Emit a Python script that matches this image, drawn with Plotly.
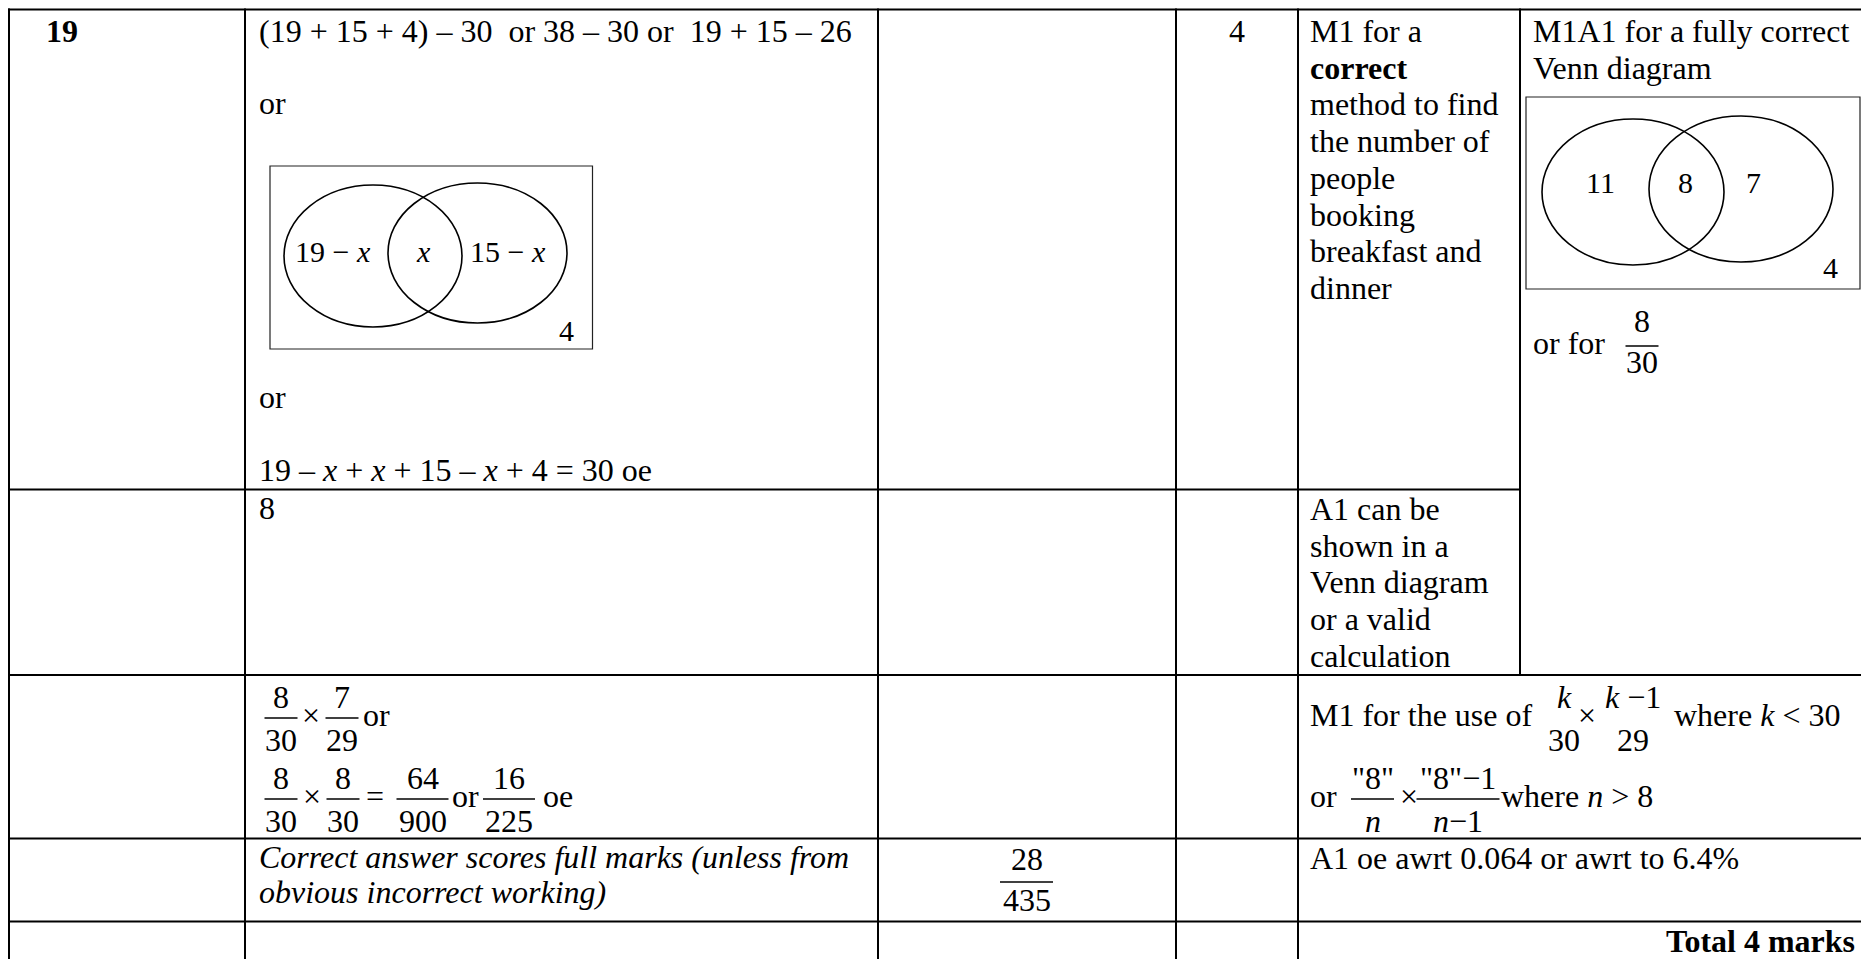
import plotly.graph_objects as go

W, H = 1869, 959
SERIF = "Liberation Serif, Times New Roman, serif"
FS = 32
LINE_H = 36.7
PAGE_OFFSET = 8  # the page body margin shifts the figure; axes are set in page pixels
TEXT_DY = -2     # small lift so text centres sit where the reference has them

# ---- table content ----
question = "19"
marks = "4"
working_row1 = ["(19 + 15 + 4) – 30  or 38 – 30 or  19 + 15 – 26", "or", "or",
                "19 – <i>x</i> + <i>x</i> + 15 – <i>x</i> + 4 = 30 oe"]
venn_method = ["19 − <i>x</i>", "<i>x</i>", "15 − <i>x</i>", "4"]
venn_answer = ["11", "8", "7", "4"]
notes_m1 = ["M1 for a", "<b>correct</b>", "method to find", "the number of",
            "people", "booking", "breakfast and", "dinner"]
notes_m1a1 = ["M1A1 for a fully correct", "Venn diagram"]
or_for = ["or for", ("8", "30")]
answer_row2 = "8"
notes_a1 = ["A1 can be", "shown in a", "Venn diagram", "or a valid", "calculation"]
prob_line1 = [("8", "30"), "×", ("7", "29"), "or"]
prob_line2 = [("8", "30"), "×", ("8", "30"), "=", ("64", "900"), "or", ("16", "225"), "oe"]
m1_line1 = ["M1 for the use of", ("<i>k</i>", "30"), "×", ("<i>k</i> −1", "29"), "where <i>k</i> &lt; 30"]
m1_line2 = ["or", ('"8"', "<i>n</i>"), "×", ('"8"−1', "<i>n</i>−1"), "where <i>n</i> &gt; 8"]
italic_note = ["<i>Correct answer scores full marks (unless from</i>", "<i>obvious incorrect working)</i>"]
final_answer = ("28", "435")
a1_note = "A1 oe awrt 0.064 or awrt to 6.4%"
total = "<b>Total 4 marks</b>"

# ---- layout (pixel positions) ----
col_x = [9, 245, 878, 1176, 1298]
col6_x = 1520
row_y = [9.5, 489.5, 675, 838.5, 921.5]

fig = go.Figure()
shapes = []
annotations = []


def hline(y, x0, x1, w=2):
    shapes.append(dict(type="line", xref="x", yref="y", x0=x0, x1=x1, y0=y, y1=y,
                       line=dict(color="black", width=w)))


def vline(x, y0, y1, w=2):
    shapes.append(dict(type="line", xref="x", yref="y", x0=x, x1=x, y0=y0, y1=y1,
                       line=dict(color="black", width=w)))


def text(x, y, s, anchor="left", size=FS):
    annotations.append(dict(x=x, y=y + TEXT_DY, xref="x", yref="y", text=s, showarrow=False,
                            xanchor=anchor, yanchor="middle",
                            font=dict(family=SERIF, size=size, color="black")))


def frac(cx, bar_y, num, den, bar_w, up=19, down=24, size=FS):
    text(cx, bar_y - up, num, "center", size)
    text(cx, bar_y + down, den, "center", size)
    shapes.append(dict(type="line", xref="x", yref="y", x0=cx - bar_w / 2, x1=cx + bar_w / 2,
                       y0=bar_y, y1=bar_y, line=dict(color="black", width=1.5)))


def expr(tokens, xs, bar_ws, bar_y, up=19, down=24):
    for tok, x, bw in zip(tokens, xs, bar_ws):
        if isinstance(tok, tuple):
            frac(x, bar_y, tok[0], tok[1], bw, up, down)
        elif tok in ("×", "="):
            text(x, bar_y - 1, tok, "center")
        else:
            text(x, bar_y - 1, tok, "left")


def venn(box, circles, labels, label_pos, size):
    x0, y0, x1, y1 = box
    shapes.append(dict(type="rect", xref="x", yref="y", x0=x0, x1=x1, y0=y0, y1=y1,
                       line=dict(color="#222", width=1.2)))
    for c in circles:
        shapes.append(dict(type="circle", xref="x", yref="y", x0=c[0], y0=c[1], x1=c[2], y1=c[3],
                           line=dict(color="black", width=1.6)))
    for lab, (lx, ly) in zip(labels, label_pos):
        text(lx, ly, lab, "center", size)


# grid
hline(row_y[0], 8, W + 10)
hline(row_y[1], 8, col6_x)
for y in row_y[2:]:
    hline(y, 8, W + 10)
for x in col_x:
    vline(x, 8.5, H + 10)
vline(col6_x, 8.5, row_y[2])

# row 1
text(44, 33, "<b>%s</b>" % question)
for s, y in zip(working_row1, [33, 105, 399, 472]):
    text(257, y, s)
venn((270, 166, 592.5, 349),
     [(284, 185, 462, 327), (388, 183, 567, 323)],
     venn_method, [(333, 253), (423, 253), (508, 253), (566, 332)], 30)
text(1237, 33, marks, "center")
for i, s in enumerate(notes_m1):
    text(1308, 33 + i * LINE_H, s)
for i, s in enumerate(notes_m1a1):
    text(1531, 33 + i * LINE_H, s)
venn((1526, 97, 1860, 289),
     [(1542, 119, 1724, 265), (1649, 116, 1833, 262)],
     venn_answer, [(1600, 184), (1685, 184), (1753, 184), (1830, 269)], 30)
expr(or_for, [1531, 1642], [0, 33], 346, up=23, down=18)

# row 2
text(257, 510, answer_row2)
for i, s in enumerate(notes_a1):
    text(1308, 511 + i * LINE_H, s)

# row 3
expr(prob_line1, [281, 311, 342, 361], [33, 0, 33, 0], 718)
expr(prob_line2, [281, 311.5, 343, 375, 422.5, 450, 509, 541], [33, 0, 33, 0, 52, 0, 52, 0], 799)
expr(m1_line1, [1308, 1564, 1587, 1633, 1672], [33, 0, 66, 0, 0], 718)
expr(m1_line2, [1308, 1372.5, 1409, 1458, 1499], [0, 43, 0, 83, 0], 799)

# row 4
for s, y in zip(italic_note, [859, 894]):
    text(257, y, s)
frac(1026.5, 882, final_answer[0], final_answer[1], 53, up=21, down=20)
text(1308, 860, a1_note)

# row 5
text(1857, 943, total, "right")

fig.update_layout(
    width=W, height=H, autosize=False,
    margin=dict(l=0, r=0, t=0, b=0),
    paper_bgcolor="white", plot_bgcolor="white",
    xaxis=dict(range=[PAGE_OFFSET, W + PAGE_OFFSET], visible=False, fixedrange=True),
    yaxis=dict(range=[H + PAGE_OFFSET, PAGE_OFFSET], visible=False, fixedrange=True),
    shapes=shapes, annotations=annotations, showlegend=False,
)

fig.write_html("out.html")
